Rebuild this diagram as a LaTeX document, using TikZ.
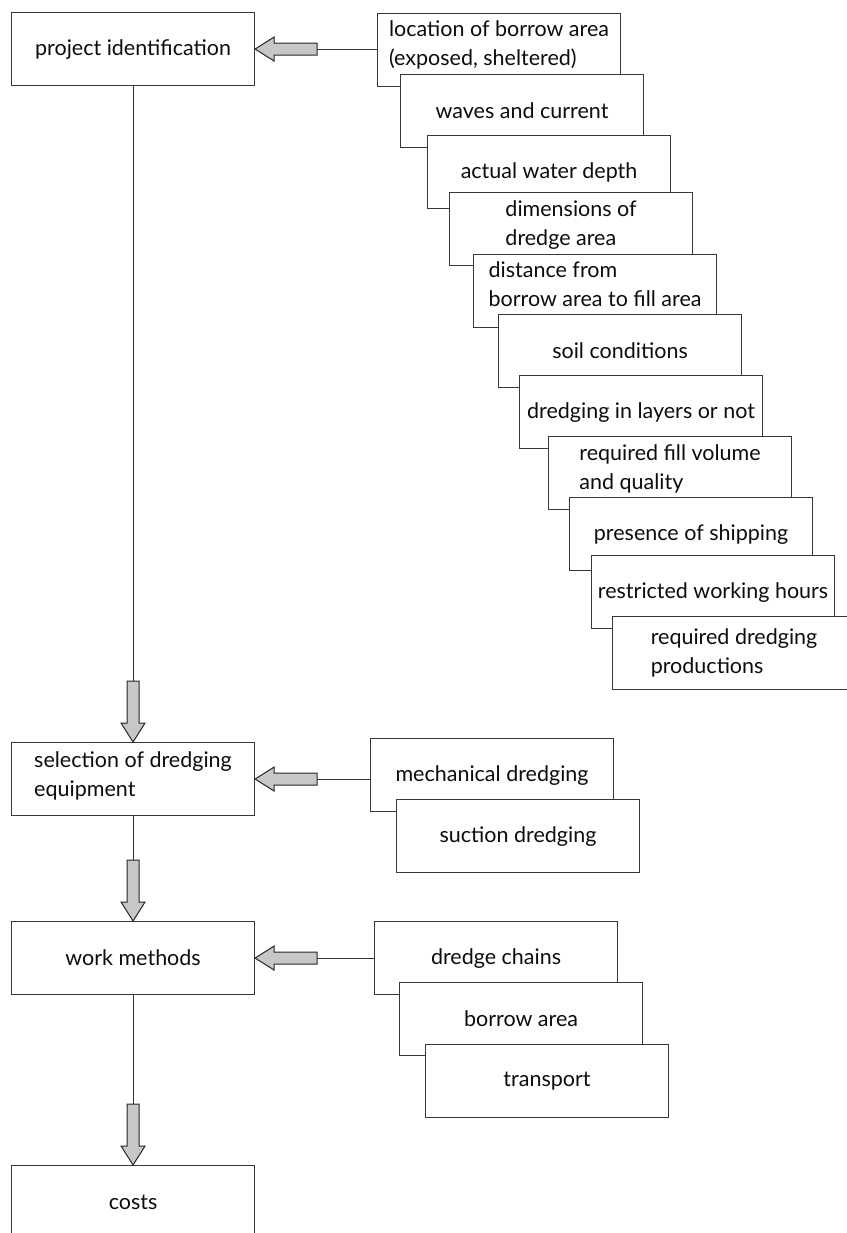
\documentclass[tikz,border=0pt]{standalone}
\usepackage{fontspec}
\setmainfont{Lato}
\usetikzlibrary{calc}
% fat block arrows: left-pointing and down-pointing, tip at #1, shaft length #2
\newcommand\fatleft[2]{\draw[fat] (#1) -- ++(19,-12) -- ++(0,6) -- ++(#2,0) -- ++(0,12) -- ++(-#2,0) -- ++(0,6) -- cycle;}
\newcommand\fatdown[2]{\draw[fat] (#1) -- ++(-12,-19) -- ++(6,0) -- ++(0,-#2) -- ++(12,0) -- ++(0,#2) -- ++(6,0) -- cycle;}
\begin{document}
\begin{tikzpicture}[x=1pt,y=-1pt,
  box/.style={draw=black!78, fill=white, line width=1.1pt,
    minimum width=243pt, minimum height=73pt, inner sep=0pt,
    anchor=north west, align=left, text=black!95,
    font=\fontsize{21.5}{28.5}\selectfont},
  link/.style={draw=black!80, line width=1pt},
  fat/.style={draw=black!85, fill=black!22, line width=1pt, line join=miter}]
\useasboundingbox (0,0) rectangle (846,1233);

% main column
\node[box] (proj) at (11,12) {project identification};
\node[box] (sel)  at (11,742) {selection of dredging\\equipment\rule[-10pt]{0pt}{1pt}};
\node[box] (work) at (11,921) {work methods};
\node[box] (cost) at (11,1165) {costs};

% project conditions
\node[box] (loc)    at (377,13)  {location of borrow area\\(exposed, sheltered)\rule[-14pt]{0pt}{1pt}};
\node[box] (waves)  at (400,74)  {waves and current};
\node[box] (depth)  at (427,135) {actual water depth};
\node[box] (dims)   at (449,192) {dimensions of\\dredge area\rule[-12pt]{0pt}{1pt}};
\node[box] (dist)   at (473,254) {distance from\\borrow area to fill area\rule[-14pt]{0pt}{1pt}};
\node[box] (soil)   at (498,314) {soil conditions};
\node[box] (layers) at (519,375) {dredging in layers or not};
\node[box] (fill)   at (548,436) {required fill volume\\and quality\rule[-12pt]{0pt}{1pt}};
\node[box] (ship)   at (569,497) {presence of shipping};
\node[box] (hours)  at (591,555) {restricted working hours};
\node[box] (prod)   at (612,616) {required dredging\\productions};

% equipment types
\node[box] (mech) at (370,738) {mechanical dredging};
\node[box] (suct) at (396,799) {suction dredging};

% work method aspects
\node[box] (chains) at (374,921)  {dredge chains};
\node[box] (borrow) at (399,982)  {borrow area};
\node[box] (transp) at (425,1044) {transport};

% vertical flow
\draw[link] (proj.south) -- ($(sel.north)+(0,-61)$);
\fatdown{sel.north}{42}
\draw[link] (sel.south) -- ($(work.north)+(0,-61)$);
\fatdown{work.north}{42}
\draw[link] (work.south) -- ($(cost.north)+(0,-61)$);
\fatdown{cost.north}{42}

% inputs from the right
\draw[link] (loc.west |- proj.east) -- ($(proj.east)+(62,0)$);
\fatleft{proj.east}{43}
\draw[link] (mech.west |- sel.east) -- ($(sel.east)+(62,0)$);
\fatleft{sel.east}{43}
\draw[link] (chains.west |- work.east) -- ($(work.east)+(62,0)$);
\fatleft{work.east}{43}
\end{tikzpicture}
\end{document}
